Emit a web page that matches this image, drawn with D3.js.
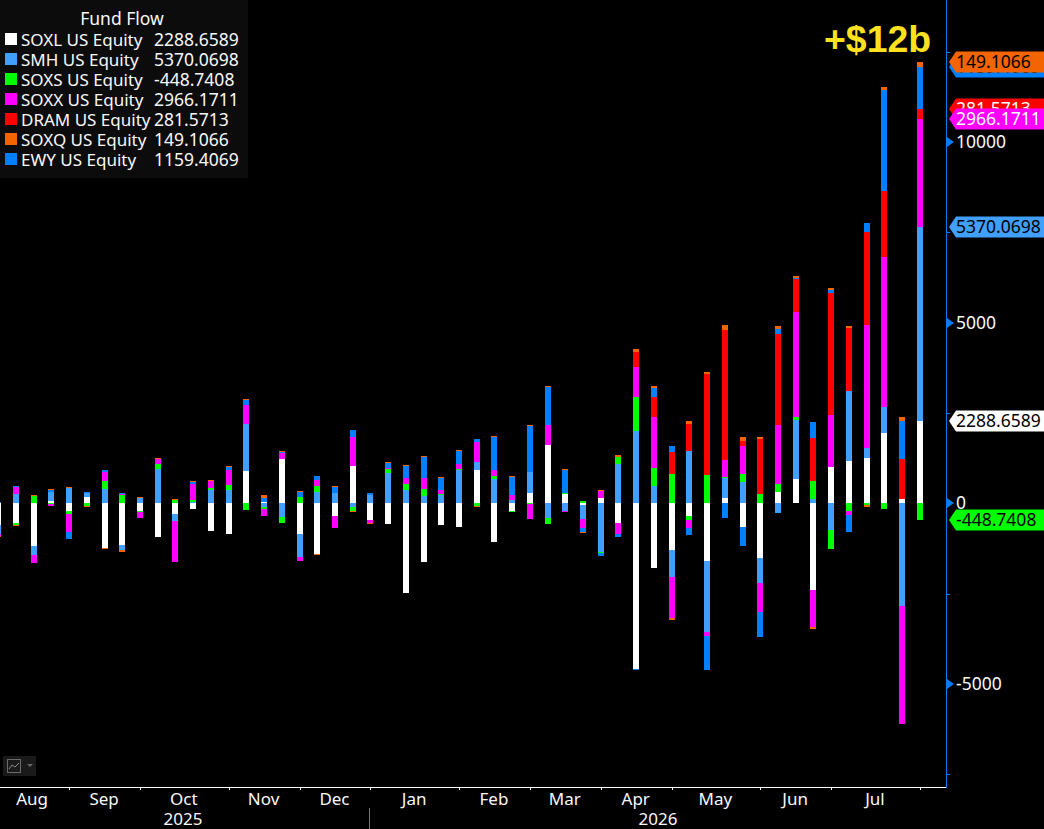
<!DOCTYPE html>
<html><head><meta charset="utf-8">
<script src="https://cdn.jsdelivr.net/npm/d3@7/dist/d3.min.js"></script>
<style>
html,body{margin:0;padding:0;background:#000;overflow:hidden}
svg{display:block}
text{font-family:"Noto Sans","Open Sans",sans-serif}
</style></head><body><svg id="c" width="1044" height="829"></svg>
<script>
const seriesNames = ["SOXL US Equity","SMH US Equity","SOXS US Equity","SOXX US Equity","DRAM US Equity","SOXQ US Equity","EWY US Equity"];
const lastLabels = ["2288.6589","5370.0698","-448.7408","2966.1711","281.5713","149.1066","1159.4069"];
const seriesColors = ["#ffffff","#409fff","#00ff00","#ff00ff","#ff0000","#f46400","#0080ff"];
const stackOrder = [0,1,2,3,4,6,5];
const tagOrder = [0,2,1,4,3,6,5];

const SOXL = [-610,-555,-1190,55,-220,165,-1245,-1165,-220,-940,-305,-165,-775,-860,885,30,1220,-860,-1410,-360,1025,-470,-580,-2490,-1635,-610,-665,915,-1080,-220,275,1605,250,-55,140,-555,-4595,-1800,-1300,-360,-1605,140,-665,-1525,305,665,-2410,995,1165,1245,1940,110,2288.66];
const SMH = [-230,250,-250,250,415,110,390,-140,140,940,-195,45,380,360,1300,-110,-390,-635,305,275,-110,220,830,360,195,220,915,220,665,85,580,-415,-220,-390,-1355,1080,1995,470,-750,1440,-1965,570,600,-690,-275,1635,110,-750,1940,275,720,-2835,5370.07];
const SOXS = [0,-55,195,-30,-65,-85,220,220,-30,140,85,35,35,140,-195,-55,-165,165,165,0,-110,0,110,165,195,30,30,-85,85,-30,-30,-165,30,55,-30,195,940,500,805,-90,775,10,220,250,220,85,500,-500,-220,-55,-165,-20,-448.74];
const SOXX = [-55,195,-220,-55,-500,0,270,30,-165,140,-1135,445,195,425,525,-195,165,-110,165,-330,805,-85,30,165,305,110,140,570,165,140,-390,555,-30,-250,195,-305,830,1410,-1135,-220,-90,470,755,-785,1635,2905,-1025,1440,-110,3405,4155,-3240,2966.17];
const DRAM = [0,0,0,0,0,0,0,0,0,0,0,0,0,0,0,0,0,0,0,0,0,0,0,0,0,0,0,0,0,0,0,0,0,0,0,0,415,555,610,750,2795,3600,140,1525,2520,905,1190,3380,1745,2575,1830,1110,281.57];
const SOXQ = [-10,-30,30,30,30,-30,-30,-30,30,30,30,30,30,30,30,85,30,30,-30,30,-30,-30,30,30,30,30,30,-30,30,30,30,30,30,-45,30,55,85,35,-30,85,55,140,110,55,85,35,-30,35,55,-55,85,110,149.11];
const EWY = [30,30,0,55,-210,30,35,30,0,0,0,55,0,75,140,110,30,140,110,165,195,55,140,330,580,330,360,65,915,500,1275,1050,635,-90,-85,-85,-30,270,165,-210,-960,-415,-525,-710,140,55,445,100,-470,250,2795,1050,1159.41];
const seriesValues = [SOXL,SMH,SOXS,SOXX,DRAM,SOXQ,EWY];

const monthLabels = ["Aug","Sep","Oct","Nov","Dec","Jan","Feb","Mar","Apr","May","Jun","Jul"];
const monthStarts = [0,4,8,13,17,21,26,30,34,38,43,47,52];
const yTicks = [-7500,-5000,-2500,0,2500,5000,7500,10000,12500];
const yLabels = [-5000,0,5000,10000];
const yearLabels = ["2025","2026"];
const annotation = "+$12b";
const legendTitle = "Fund Flow";

const svg = d3.select("#c");
const plotRight = 947, axisBottom = 787;
const x = d3.scaleLinear().domain([0,52]).range([-1.7,919.7]);
const y = d3.scaleLinear().domain([-5000,10000]).range([684,142]);
const barW = 6;
const xPix = v => Math.round(x(v) - barW/2);
const txt = "#f8f8f8", fs = 17.5;

svg.append("defs").append("clipPath").attr("id","plot").append("rect")
  .attr("x",0).attr("y",0).attr("width",plotRight).attr("height",axisBottom);

const g = svg.append("g").attr("clip-path","url(#plot)");
const tops = {};
d3.range(53).forEach(i=>{
  let pos=0,neg=0;
  stackOrder.forEach(k=>{
    const v=seriesValues[k][i];
    if(!v) return;
    const a = v>0?pos:neg, b=a+v;
    if(v>0)pos=b; else neg=b;
    if(i===52) tops[k]=b;
    const y0=Math.round(y(a)), y1=Math.round(y(b));
    g.append("rect").attr("x",xPix(i)).attr("width",barW)
      .attr("y",Math.min(y0,y1)).attr("height",Math.max(Math.abs(y1-y0),1))
      .attr("fill",seriesColors[k]).attr("shape-rendering","crispEdges");
  });
});

const xAxis = d3.axisBottom(x).tickValues(monthStarts.slice(1)).tickSize(3).tickFormat("");
const xg = svg.append("g").attr("transform",`translate(0,${axisBottom})`).call(xAxis);
xg.select(".domain").remove();
xg.selectAll("line").attr("stroke","#fff").attr("shape-rendering","crispEdges");
svg.append("line").attr("x1",0).attr("x2",plotRight).attr("y1",axisBottom+.5).attr("y2",axisBottom+.5).attr("stroke","#fff");
monthLabels.forEach((m,i)=>{
  const a = i===0 ? -4 : x(monthStarts[i]), b = x(monthStarts[i+1]);
  svg.append("text").attr("x",(a+b)/2-.5).attr("y",805).attr("text-anchor","middle")
    .attr("font-size",17).attr("fill",txt).text(m);
});
svg.append("text").attr("x",183).attr("y",825).attr("text-anchor","middle").attr("font-size",17).attr("fill",txt).text(yearLabels[0]);
svg.append("text").attr("x",658).attr("y",825).attr("text-anchor","middle").attr("font-size",17).attr("fill",txt).text(yearLabels[1]);
svg.append("line").attr("x1",369.5).attr("x2",369.5).attr("y1",808).attr("y2",829).attr("stroke","#777");

const blue="#0d7bf0";
const yg = svg.append("g").attr("transform",`translate(${plotRight},0)`)
  .call(d3.axisRight(y).tickValues(yTicks).tickSize(3).tickFormat(""));
yg.select(".domain").remove();
yg.selectAll("line").attr("stroke",blue).attr("shape-rendering","crispEdges");
svg.append("line").attr("x1",plotRight-.5).attr("x2",plotRight-.5).attr("y1",0).attr("y2",axisBottom+1).attr("stroke",blue);
yLabels.forEach(v=>{
  const py=Math.round(y(v));
  svg.append("path").attr("d",`M${plotRight},${py-5}L${plotRight+7},${py}L${plotRight},${py+5}Z`).attr("fill",blue);
  svg.append("text").attr("x",956).attr("y",py+6).attr("font-size",fs).attr("fill",txt).text(v);
});

const tagText=["#000","#000","#000","#fff","#fff","#000","#000"];
tagOrder.forEach(k=>{
  const c=Math.round(y(tops[k]));
  svg.append("path").attr("d",`M949,${c}L956,${c-10.5}L1044,${c-10.5}L1044,${c+10.5}L956,${c+10.5}Z`).attr("fill",seriesColors[k]);
  svg.append("text").attr("x",956).attr("y",c+6).attr("font-size",fs).attr("fill",tagText[k]).text(lastLabels[k]);
});

svg.append("text").attr("x",824).attr("y",52).attr("font-size",37.4).attr("font-weight","bold")
  .style("font-family","'Liberation Sans',Arial,sans-serif").attr("fill","#ffe11f").text(annotation);

svg.append("rect").attr("x",0).attr("y",0).attr("width",248).attr("height",178).attr("fill","#0c0c0c");
svg.append("text").attr("x",122).attr("y",25).attr("text-anchor","middle").attr("font-size",fs).attr("fill",txt).text(legendTitle);
seriesNames.forEach((n,i)=>{
  const yy=40+i*20;
  svg.append("rect").attr("x",5).attr("y",33+i*20).attr("width",12).attr("height",12).attr("fill",seriesColors[i]);
  svg.append("text").attr("x",21).attr("y",yy+5.5).attr("font-size",17).attr("fill",txt).text(n);
  svg.append("text").attr("x",154).attr("y",yy+5.5).attr("font-size",fs).attr("fill",txt).text(lastLabels[i]);
});

const tb=svg.append("g");
tb.append("rect").attr("x",3).attr("y",756).attr("width",33).attr("height",20).attr("fill","#1a1a1a");
tb.append("rect").attr("x",7.5).attr("y",759.5).attr("width",13).attr("height",13).attr("fill","none").attr("stroke","#6a6a6a");
tb.append("path").attr("d","M9,769L12,765L15,767L19,763").attr("fill","none").attr("stroke","#8a8a8a");
tb.append("path").attr("d","M27,764L33,764L30,767Z").attr("fill","#666");
</script></body></html>
